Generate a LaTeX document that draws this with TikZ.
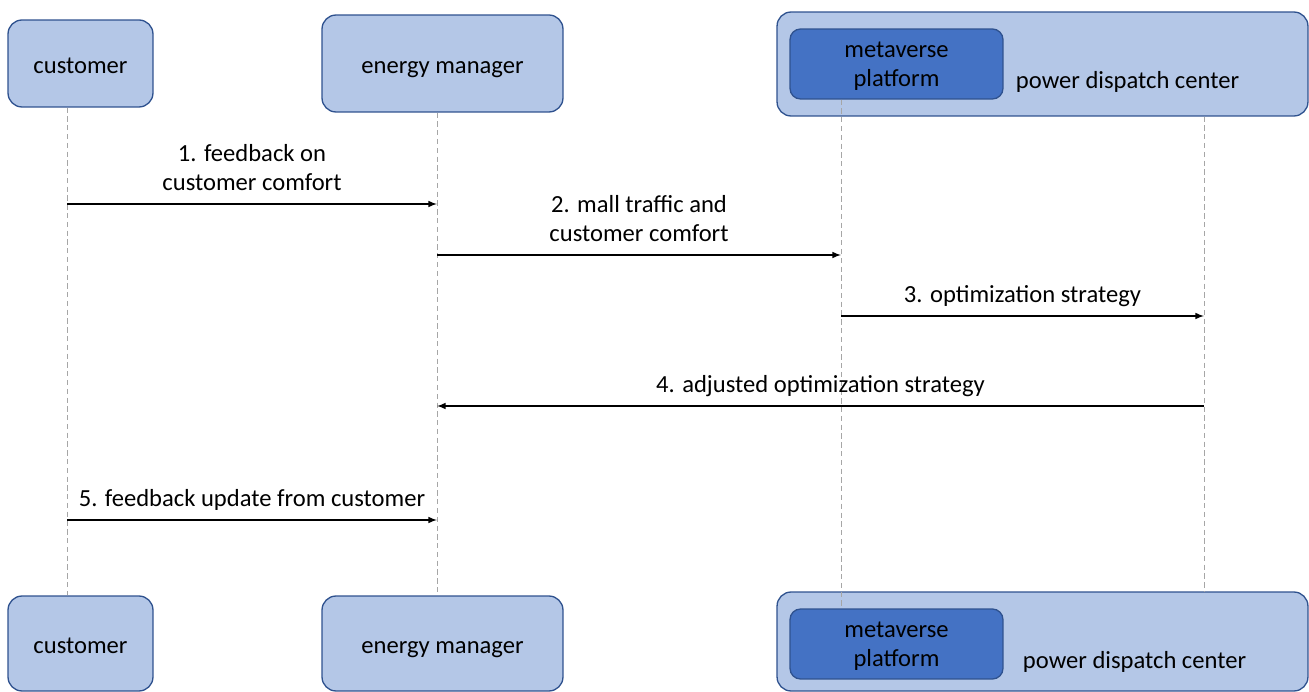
\documentclass[tikz,border=0pt]{standalone}
\usepackage{fontspec}
\setmainfont{Carlito}
\usepackage{tikz}
\usetikzlibrary{positioning, arrows.meta, calc}
\definecolor{boxblue}{HTML}{B4C7E7}
\definecolor{edgeblue}{HTML}{2F528F}
\definecolor{platblue}{HTML}{4472C4}

\begin{document}
\begin{tikzpicture}[
    x=0.02cm, y=-0.02cm,
    font=\fontsize{14}{16.5}\selectfont,
    actorbox/.style={
        rectangle,
        draw=edgeblue,
        line width=0.75pt,
        fill=boxblue,
        rounded corners=8pt,
        align=center,
        inner sep=0pt,
        text height=13pt,
        text depth=1.5pt
    },
    platbox/.style={
        rectangle,
        draw=edgeblue,
        line width=0.75pt,
        fill=platblue,
        rounded corners=6pt,
        align=center,
        inner sep=0pt,
        text depth=0pt,
        minimum width=4.26cm,
        minimum height=1.4cm
    },
    lifeline/.style={gray!70, line width=0.5pt, dash pattern=on 3pt off 2pt},
    msg/.style={->, >=latex, line width=0.7pt, black},
    msglabel/.style={above=7.5pt, inner sep=0pt, text depth=0pt, align=center}
]
    \useasboundingbox (0,0) rectangle (1309,692);

    % Top row: actors
    \node[actorbox, minimum width=2.9cm, minimum height=1.74cm] (custT) at (80.5,63.5) {customer};
    \node[actorbox, minimum width=4.82cm, minimum height=1.94cm] (emT) at (442.5,63.5) {energy manager};
    \node[actorbox, minimum width=10.62cm, minimum height=2.08cm] (pdcT) at (1042.5,64) {};
    \node[platbox] (mvT) at (896.5,64) {metaverse\\platform};
    \node[inner sep=0pt, anchor=west, right=0.24cm of mvT, yshift=-0.36cm] (pdcTxtT) {power dispatch center};

    % Bottom row: actors
    \node[actorbox, minimum width=2.9cm, minimum height=1.9cm] (custB) at (80.5,643.5) {customer};
    \node[actorbox, minimum width=4.82cm, minimum height=1.9cm] (emB) at (442.5,643.5) {energy manager};
    \node[actorbox, minimum width=10.62cm, minimum height=1.98cm] (pdcB) at (1042.5,641.5) {};
    \node[platbox] (mvB) at (896.5,644) {metaverse\\platform};
    \node[inner sep=0pt, anchor=west, right=0.38cm of mvB, yshift=-0.36cm] (pdcTxtB) {power dispatch center};

    % Lifelines
    \coordinate (custX) at (67,0);
    \coordinate (emX) at (437,0);
    \coordinate (mvX) at (841,0);
    \coordinate (pdcX) at (1204,0);
    \draw[lifeline] (custX |- custT.south) -- (custX |- custB.north);
    \draw[lifeline] (emX |- emT.south) -- (emX |- emB.north);
    \draw[lifeline] (mvX |- mvT.south) -- (mvX |- mvB.north);
    \draw[lifeline] (pdcX |- pdcT.south) -- (pdcX |- pdcB.north);

    % Messages
    \coordinate (m1) at (0,204);
    \coordinate (m2) at (0,255);
    \coordinate (m3) at (0,316);
    \coordinate (m4) at (0,406);
    \coordinate (m5) at (0,520);
    \draw[msg] (custX |- m1) -- node[msglabel] {1. feedback on\\customer comfort} (emX |- m1);
    \draw[msg] (emX |- m2) -- node[msglabel] {2. mall traffic and\\customer comfort} (mvX |- m2);
    \draw[msg] (mvX |- m3) -- node[msglabel] {3. optimization strategy} (pdcX |- m3);
    \draw[msg] (pdcX |- m4) -- node[msglabel] {4. adjusted optimization strategy} (emX |- m4);
    \draw[msg] (custX |- m5) -- node[msglabel] {5. feedback update from customer} (emX |- m5);
\end{tikzpicture}
\end{document}
